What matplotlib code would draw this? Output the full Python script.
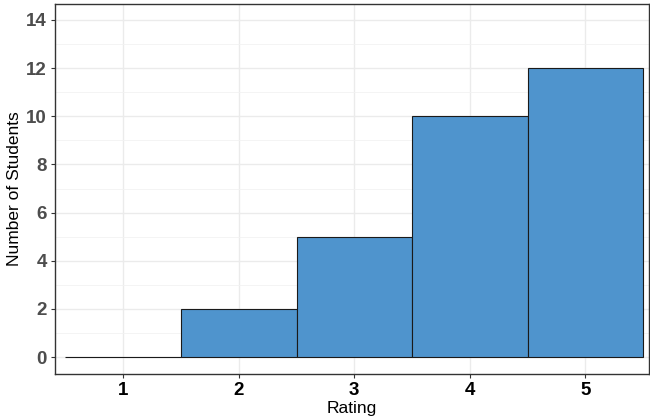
import matplotlib
matplotlib.use("Agg")
import matplotlib.pyplot as plt
from matplotlib.ticker import MultipleLocator

ratings = [1, 2, 3, 4, 5]
counts = [0, 2, 5, 10, 12]
yticks = [0, 2, 4, 6, 8, 10, 12, 14]

plt.rcParams['font.family'] = ['Liberation Sans', 'DejaVu Sans']

fig = plt.figure(figsize=(6.5, 4.18), dpi=100)
ax = fig.add_axes([55/650, 44/418, 594/650, 370/418])

ax.bar(ratings, counts, width=1.0, color='#4F94CD', edgecolor='#1a1a1a', linewidth=0.8, zorder=3)

ax.set_xlim(0.41, 5.55)
ax.set_ylim(-0.7, 14.66)
ax.set_xticks(ratings)
ax.set_yticks(yticks)
ax.yaxis.set_minor_locator(MultipleLocator(1))
ax.grid(True, which='major', color='#EBEBEB', linewidth=1.0, zorder=0)
ax.grid(True, which='minor', axis='y', color='#F2F2F2', linewidth=0.6, zorder=0)
ax.set_axisbelow(True)

for s in ax.spines.values():
    s.set_color('#333333')
    s.set_linewidth(1.0)

ax.tick_params(axis='both', which='major', length=3, color='#333333', width=0.8, pad=3)
ax.tick_params(axis='both', which='minor', length=0)
for lbl in ax.get_yticklabels():
    lbl.set_fontweight('bold'); lbl.set_fontsize(13.5); lbl.set_color('#4D4D4D')
for lbl in ax.get_xticklabels():
    lbl.set_fontweight('bold'); lbl.set_fontsize(13.5); lbl.set_color('black')

ax.set_xlabel('Rating', fontsize=12.5, color='black', labelpad=1)
ax.set_ylabel('Number of Students', fontsize=12.5, color='black', labelpad=3)

fig.savefig('out.png', dpi=100)
